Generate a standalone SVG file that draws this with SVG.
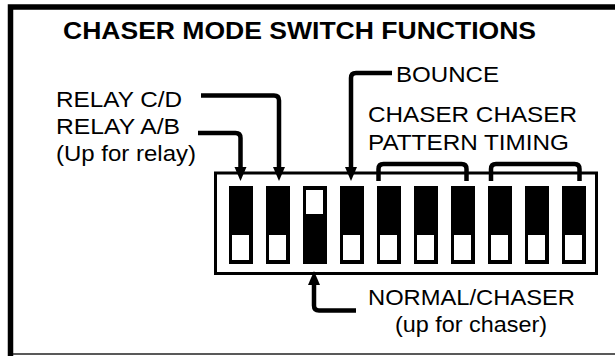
<svg xmlns="http://www.w3.org/2000/svg" width="615" height="356" viewBox="0 0 615 356">
<style>
  .t { font-family: "Liberation Sans", Arial, sans-serif; font-size: 22px; fill: #000; }
  .title { font-family: "Liberation Sans", Arial, sans-serif; font-size: 24px; font-weight: bold; fill: #000; }
  .ln { fill: none; stroke: #000; stroke-width: 4.5; stroke-linejoin: round; }
  .sw { fill: #000; }
  .win { fill: #fff; }
</style>
<defs>
  <marker id="ah" markerUnits="userSpaceOnUse" markerWidth="14" markerHeight="14" viewBox="0 0 14 12" refX="0" refY="6" orient="auto">
    <path d="M0 0 L14 6 L0 12 Z" fill="#000"/>
  </marker>
</defs>
<rect width="615" height="356" fill="#fff"/>
<g id="frame">
  <path d="M615 7 H10.5 V356" fill="none" stroke="#000" stroke-width="5.5"/>
  <line x1="13" y1="354" x2="615" y2="354" stroke="#222" stroke-width="1.5"/>
</g>
<g id="title"><text class="title" x="63" y="39" textLength="473" lengthAdjust="spacingAndGlyphs">CHASER MODE SWITCH FUNCTIONS</text></g>
<g id="switchbank">
  <rect x="215.5" y="173" width="381" height="100.5" fill="#fff" stroke="#000" stroke-width="3"/>
  <g id="sw1"><rect class="sw" x="229" y="186" width="24" height="78"/><rect class="win" x="232" y="235" width="17" height="25"/></g>
  <g id="sw2"><rect class="sw" x="266" y="186" width="24" height="78"/><rect class="win" x="269" y="235" width="17" height="25"/></g>
  <g id="sw3"><rect class="sw" x="303" y="186" width="24" height="78"/><rect class="win" x="306" y="190" width="17" height="24"/></g>
  <g id="sw4"><rect class="sw" x="340" y="186" width="24" height="78"/><rect class="win" x="343" y="235" width="17" height="25"/></g>
  <g id="sw5"><rect class="sw" x="377" y="186" width="24" height="78"/><rect class="win" x="380" y="235" width="17" height="25"/></g>
  <g id="sw6"><rect class="sw" x="414" y="186" width="24" height="78"/><rect class="win" x="417" y="235" width="17" height="25"/></g>
  <g id="sw7"><rect class="sw" x="451" y="186" width="24" height="78"/><rect class="win" x="454" y="235" width="17" height="25"/></g>
  <g id="sw8"><rect class="sw" x="488" y="186" width="24" height="78"/><rect class="win" x="491" y="235" width="17" height="25"/></g>
  <g id="sw9"><rect class="sw" x="525" y="186" width="24" height="78"/><rect class="win" x="528" y="235" width="17" height="25"/></g>
  <g id="sw10"><rect class="sw" x="562" y="186" width="24" height="78"/><rect class="win" x="565" y="235" width="17" height="25"/></g>
</g>
<g id="label-relay">
  <text class="t" x="56" y="107" textLength="126" lengthAdjust="spacingAndGlyphs">RELAY C/D</text>
  <text class="t" x="56" y="134" textLength="124" lengthAdjust="spacingAndGlyphs">RELAY A/B</text>
  <text class="t" x="56" y="161" textLength="140" lengthAdjust="spacingAndGlyphs">(Up for relay)</text>
</g>
<g id="label-bounce"><text class="t" x="396" y="82" textLength="103" lengthAdjust="spacingAndGlyphs">BOUNCE</text></g>
<g id="label-chaser">
  <text class="t" x="368" y="122" textLength="209" lengthAdjust="spacingAndGlyphs">CHASER CHASER</text>
  <text class="t" x="368" y="150" textLength="201" lengthAdjust="spacingAndGlyphs">PATTERN TIMING</text>
</g>
<g id="label-normal">
  <text class="t" x="368" y="305" textLength="207" lengthAdjust="spacingAndGlyphs">NORMAL/CHASER</text>
  <text class="t" x="395" y="332" textLength="152" lengthAdjust="spacingAndGlyphs">(up for chaser)</text>
</g>
<g id="connectors">
  <path class="ln" d="M201 95.5 H274 Q279 95.5 279 100.5 V167" marker-end="url(#ah)"/>
  <path class="ln" d="M198 133 H235.5 Q240.5 133 240.5 138 V167" marker-end="url(#ah)"/>
  <path class="ln" d="M392 73 H356 Q351 73 351 78 V167" marker-end="url(#ah)"/>
  <path class="ln" d="M356 310.5 H319 Q314 310.5 314 305.5 V285" marker-end="url(#ah)"/>
  <path class="ln" d="M378.5 181 V169 Q378.5 164 383.5 164 H461.5 Q466.5 164 466.5 169 V181"/>
  <path class="ln" d="M491 181 V169 Q491 164 496 164 H574.5 Q579.5 164 579.5 169 V181"/>
</g>
</svg>
